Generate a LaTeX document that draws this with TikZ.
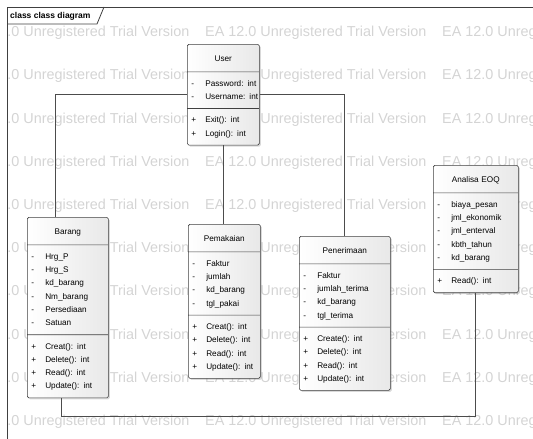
\documentclass[tikz,border=0pt]{standalone}
\usepackage{fontspec}
\setmainfont{Liberation Sans}
\usetikzlibrary{shapes.multipart,shadows,positioning}
\newcommand{\classname}[1]{\makebox[\linewidth]{\rule[-5.8pt]{0pt}{17.6pt}#1}}
\newcommand{\priv}[1]{\mbox{\strut\makebox[14pt][l]{-}#1}}
\newcommand{\publ}[1]{\mbox{\strut\makebox[14pt][l]{+}#1}}
\tikzset{
    umlclass/.style={
        rectangle split,
        rectangle split parts=3,
        draw=black!75,
        line width=0.6pt,
        rounded corners=1.5pt,
        left color=white,
        right color=black!9,
        drop shadow={shadow xshift=1.5pt,shadow yshift=-1.5pt,opacity=0.3},
        text width=#1,
        inner xsep=4pt,
        inner ysep=4.7pt,
        align=left,
        anchor=north west,
        font=\fontsize{8.2}{13.3}\selectfont,
    },
    watermark/.style={
        anchor=west,
        inner sep=0pt,
        text=black!17,
        font=\fontsize{14.4}{16}\selectfont,
    },
    tablabel/.style={
        anchor=west,
        inner sep=0pt,
        font=\fontsize{8.5}{10}\selectfont\bfseries,
    },
    frame/.style={
        draw=black!75,
        line width=0.8pt,
    },
    assoc/.style={
        draw=black!70,
        line width=0.7pt,
    },
}

\begin{document}
\begin{tikzpicture}[x=1pt,y=-1pt]
  \useasboundingbox (0,0) rectangle (533,439);

  % watermark
  \begin{scope}
    \clip (7,7) rectangle (533,439);
    \foreach \row in {0,...,9}
      \foreach \col in {-1,0,1}
        \node[watermark] at (205+237*\col, 33+43.2*\row) {EA 12.0 Unregistered Trial Version};
  \end{scope}

  % frame
  \draw[frame] (7,439) -- (7,7) -- (533,7);
  \node[tablabel] (tab) at (10,16) {class class diagram};
  \draw[frame] (7,24) -- (97,24) -- (104,7);

  % classes
  \node[umlclass=64pt] (user) at (187,44) {\classname{User}
    \nodepart{second}\priv{Password: int}\\\priv{Username: int}
    \nodepart{third}\publ{Exit(): int}\\\publ{Login(): int}};
  \node[umlclass=73pt] (barang) at (27,217) {\classname{Barang}
    \nodepart{second}\priv{Hrg\_P}\\\priv{Hrg\_S}\\\priv{kd\_barang}\\\priv{Nm\_barang}\\\priv{Persediaan}\\\priv{Satuan}
    \nodepart{third}\publ{Creat(): int}\\\publ{Delete(): int}\\\publ{Read(): int}\\\publ{Update(): int}};
  \node[umlclass=64pt] (pemakaian) at (188,224) {\classname{Pemakaian}
    \nodepart{second}\priv{Faktur}\\\priv{jumlah}\\\priv{kd\_barang}\\\priv{tgl\_pakai}
    \nodepart{third}\publ{Creat(): int}\\\publ{Delete(): int}\\\publ{Read(): int}\\\publ{Update(): int}};
  \node[umlclass=83pt] (penerimaan) at (299,236) {\classname{Penerimaan}
    \nodepart{second}\priv{Faktur}\\\priv{jumlah\_terima}\\\priv{kd\_barang}\\\priv{tgl\_terima}
    \nodepart{third}\publ{Create(): int}\\\publ{Delete(): int}\\\publ{Read(): int}\\\publ{Update(): int}};
  \node[umlclass=77pt] (analisa) at (433,165) {\classname{Analisa EOQ}
    \nodepart{second}\priv{biaya\_pesan}\\\priv{jml\_ekonomik}\\\priv{jml\_enterval}\\\priv{kbth\_tahun}\\\priv{kd\_barang}
    \nodepart{third}\publ{Read(): int}};

  % associations
  \draw[assoc] (user.west) -| ([xshift=-12.5pt]barang.north);
  \draw[assoc] (user.east) -| (penerimaan.north);
  \draw[assoc] (user.south) -- (user.south |- pemakaian.north);
  \draw[assoc] ([xshift=-6.5pt]barang.south) -- ++(0,18) -| (analisa.south);
\end{tikzpicture}
\end{document}
